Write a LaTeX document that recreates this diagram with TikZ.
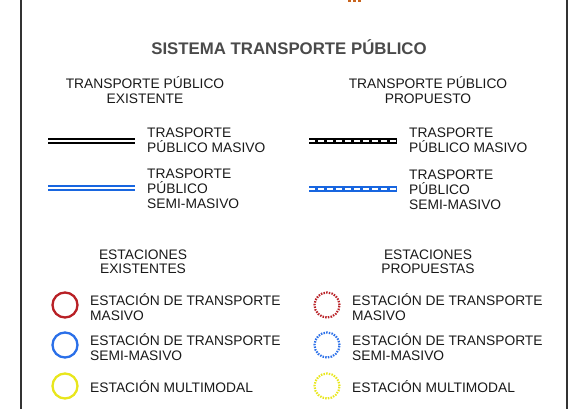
\documentclass[tikz,border=0pt]{standalone}
\usepackage{fontspec}
\setmainfont{Liberation Sans}
\begin{document}
\begin{tikzpicture}[x=1pt,y=-1pt,
  txt/.style={inner sep=0pt,anchor=west,align=left,font=\fontsize{13.8}{15.2}\selectfont,text=black!90},
  hdr/.style={inner sep=0pt,align=center,font=\fontsize{13.8}{14.2}\selectfont,text=black!90},
  frameline/.style={line width=2pt,draw=black!80},
  exline/.style={line width=6pt},
  exgap/.style={line width=2pt,draw=white},
  prgap/.style={line width=1.6pt,draw=white,dash pattern=on 6pt off 3pt},
  station/.style={circle,minimum size=25pt,inner sep=0pt,line width=2.3pt},
  propstation/.style={station,line width=2.2pt,dash pattern=on 1.5pt off 1.2pt}]
\definecolor{stred}{HTML}{B82025}
\definecolor{stblue}{HTML}{2A6FE8}
\definecolor{styellow}{HTML}{E8E61C}
\definecolor{lnblue}{HTML}{1866E0}
\definecolor{ttlgray}{HTML}{4A4A4A}
\definecolor{orng}{HTML}{C8641E}
\useasboundingbox (0,0) rectangle (578,409);
% frame
\draw[frameline] (21,0) -- (21,409);
\draw[frameline] (567,0) -- (567,409);
% orange fragment at the top
\fill[orng] (348,0) rectangle (351,2.5);
\fill[orng] (353,0) rectangle (356,2.5);
\fill[orng] (358,0) rectangle (361,2);
% title
\node[inner sep=0pt,font=\bfseries\fontsize{16.8}{19}\selectfont,text=ttlgray] (title) at (289,47) {SISTEMA TRANSPORTE PÚBLICO};
% headers
\node[hdr] (hex) at (145,90) {TRANSPORTE PÚBLICO\\EXISTENTE};
\node[hdr] (hpr) at (428,90) {TRANSPORTE PÚBLICO\\PROPUESTO};
% existing lines
\coordinate (l1a) at (48,141); \coordinate (l1b) at (135,141);
\draw[exline,draw=black] (l1a) -- (l1b);
\draw[exgap] (l1a) -- (l1b);
\node[txt] (t1) at (147,140) {TRASPORTE\\PÚBLICO MASIVO};
\coordinate (l2a) at (48,188); \coordinate (l2b) at (135,188);
\draw[exline,draw=lnblue] (l2a) -- (l2b);
\draw[exgap] (l2a) -- (l2b);
\node[txt] (t2) at (147,189) {TRASPORTE\\PÚBLICO\\SEMI-MASIVO};
% proposed lines
\coordinate (l3a) at (309,141); \coordinate (l3b) at (397,141);
\draw[exline,draw=black] (l3a) -- (l3b);
\draw[prgap] (l3a) -- (l3b);
\node[txt] (t3) at (409,140) {TRASPORTE\\PÚBLICO MASIVO};
\coordinate (l4a) at (309,189); \coordinate (l4b) at (397,189);
\draw[exline,draw=lnblue] (l4a) -- (l4b);
\draw[prgap] (l4a) -- (l4b);
\node[txt] (t4) at (409,190) {TRASPORTE\\PÚBLICO\\SEMI-MASIVO};
% station headers
\node[hdr] (sex) at (143,262) {ESTACIONES\\EXISTENTES};
\node[hdr] (spr) at (428,262) {ESTACIONES\\PROPUESTAS};
% existing stations
\node[station,draw=stred] (c1) at (65,305) {};
\node[station,draw=stblue] (c2) at (65,345) {};
\node[station,draw=styellow] (c3) at (65,386) {};
\node[txt] (s1) at (90,307) {ESTACIÓN DE TRANSPORTE\\MASIVO};
\node[txt] (s2) at (90,347) {ESTACIÓN DE TRANSPORTE\\SEMI-MASIVO};
\node[txt] (s3) at (90,387) {ESTACIÓN MULTIMODAL};
% proposed stations
\node[propstation,draw=stred] (c4) at (327,305) {};
\node[propstation,draw=stblue] (c5) at (327,345) {};
\node[propstation,draw=styellow] (c6) at (327,386) {};
\node[txt] (s4) at (352,307) {ESTACIÓN DE TRANSPORTE\\MASIVO};
\node[txt] (s5) at (352,347) {ESTACIÓN DE TRANSPORTE\\SEMI-MASIVO};
\node[txt] (s6) at (352,387) {ESTACIÓN MULTIMODAL};
\end{tikzpicture}
\end{document}
